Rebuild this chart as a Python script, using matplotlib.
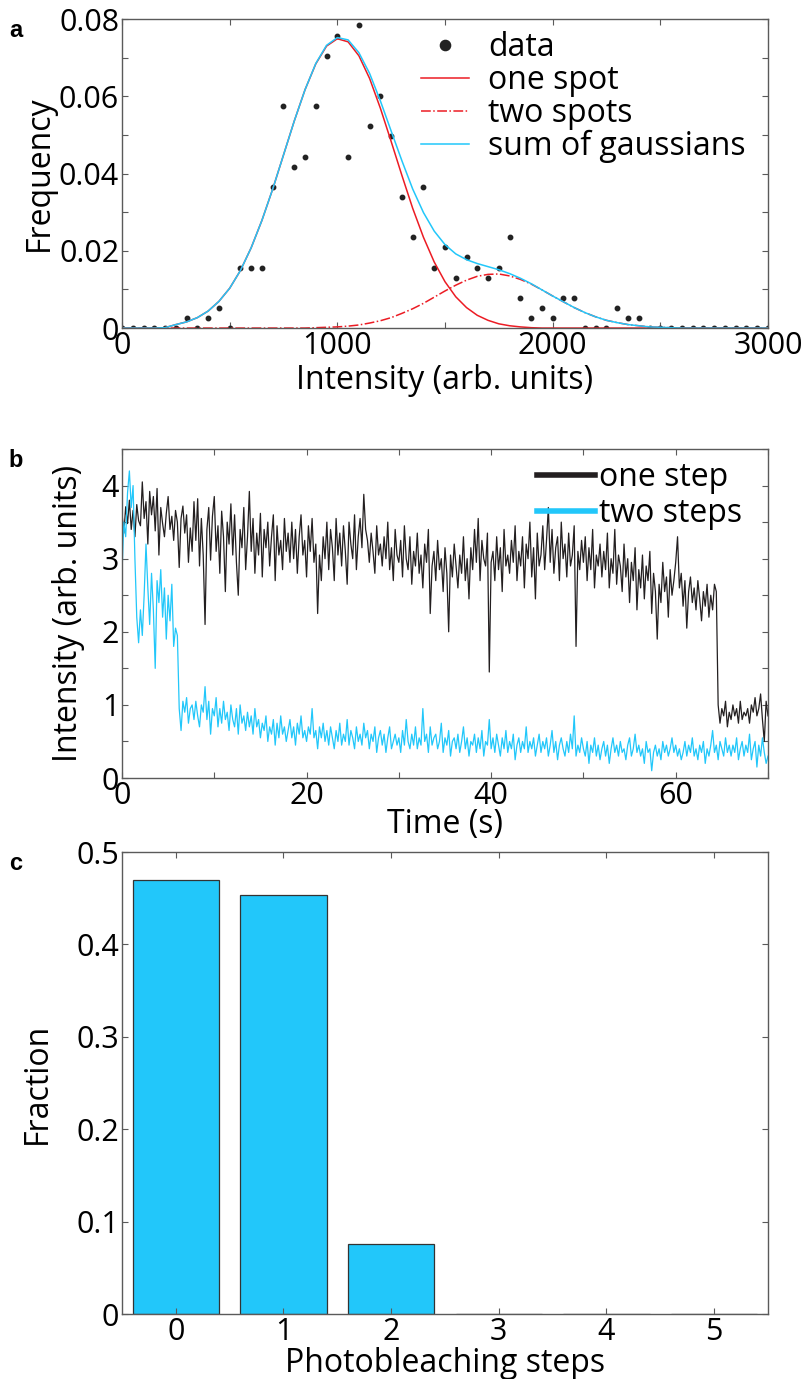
import numpy as np
import matplotlib
matplotlib.use("Agg")
import matplotlib.pyplot as plt
from matplotlib.ticker import MultipleLocator

plt.rcParams['font.family'] = ['Open Sans', 'DejaVu Sans']

# ---- panel a: intensity histogram of spots (counts per 50 unit bin)
intensity = np.arange(0, 3001, 50)
counts = [0, 0, 0, 0, 0, 0, 1, 0, 1, 2, 0, 6, 6, 6, 14, 22, 16, 17, 22, 27,
          29, 17, 30, 20, 23, 19, 13, 9, 14, 6, 8, 5, 7, 6, 5, 6, 9, 3, 1, 2,
          1, 3, 3, 0, 0, 0, 2, 1, 1, 0, 0, 0, 0, 0, 0, 0, 0, 0, 0, 0, 0]
# fitted gaussians at the same 50 unit steps
one_spot = [0.0000, 0.0000, 0.0000, 0.0000, 0.0001, 0.0009, 0.0016, 0.0027, 0.0044, 0.0069,
            0.0103, 0.0149, 0.0208, 0.0279, 0.0360, 0.0448, 0.0536, 0.0617, 0.0684, 0.0730,
            0.0749, 0.0741, 0.0705, 0.0646, 0.0569, 0.0483, 0.0395, 0.0310, 0.0235, 0.0171,
            0.0120, 0.0081, 0.0053, 0.0033, 0.0020, 0.0011, 0.0006, 0.0003, 0.0001, 0.0000,
            0.0000, 0.0000, 0.0000, 0.0000, 0.0000, 0.0000, 0.0000, 0.0000, 0.0000, 0.0000,
            0.0000, 0.0000, 0.0000, 0.0000, 0.0000, 0.0000, 0.0000, 0.0000, 0.0000, 0.0000, 0.0000]
two_spots = [0.0000, 0.0000, 0.0000, 0.0000, 0.0000, 0.0000, 0.0000, 0.0000, 0.0000, 0.0000,
             0.0000, 0.0000, 0.0000, 0.0000, 0.0000, 0.0000, 0.0000, 0.0000, 0.0001, 0.0002,
             0.0003, 0.0005, 0.0008, 0.0013, 0.0019, 0.0027, 0.0038, 0.0050, 0.0064, 0.0080,
             0.0096, 0.0111, 0.0124, 0.0134, 0.0139, 0.0140, 0.0135, 0.0126, 0.0114, 0.0099,
             0.0083, 0.0068, 0.0053, 0.0040, 0.0029, 0.0020, 0.0014, 0.0009, 0.0006, 0.0003,
             0.0002, 0.0001, 0.0000, 0.0000, 0.0000, 0.0000, 0.0000, 0.0000, 0.0000, 0.0000, 0.0000]

# ---- panel b: example traces, one frame every 0.2 s
time = np.arange(0, 351) * 0.2
one_step = [3.62, 3.35, 3.71, 3.48, 3.80, 3.40, 3.66, 3.30, 3.74, 3.52,
            3.45, 4.05, 3.55, 3.78, 3.20, 3.92, 3.60, 3.85, 3.38, 3.96,
            3.05, 3.70, 3.48, 3.30, 3.62, 3.85, 3.40, 3.58, 3.25, 3.66,
            3.50, 2.88, 3.55, 3.72, 3.35, 3.60, 2.95, 3.42, 3.10, 3.78,
            3.25, 3.82, 2.90, 3.55, 3.05, 2.10, 3.40, 3.70, 2.98, 3.58,
            3.85, 3.10, 3.45, 2.80, 3.65, 3.30, 2.55, 3.50, 3.20, 3.75,
            3.05, 3.60, 2.95, 2.50, 3.40, 3.15, 3.70, 2.85, 3.30, 3.92,
            3.10, 3.55, 2.80, 3.35, 3.05, 3.62, 2.75, 3.40, 3.15, 3.50,
            2.90, 3.30, 3.60, 2.70, 3.45, 3.05, 3.25, 2.85, 3.55, 3.10,
            3.35, 2.95, 3.50, 3.00, 3.40, 2.80, 3.30, 3.60, 3.05, 3.25,
            2.75, 3.45, 3.10, 3.55, 2.95, 3.20, 2.25, 3.05, 2.70, 3.30,
            3.00, 3.50, 2.85, 3.40, 3.15, 2.70, 3.55, 3.05, 3.35, 2.90,
            3.45, 3.10, 2.65, 3.50, 3.20, 3.00, 3.60, 2.85, 3.30, 3.55,
            3.15, 3.88, 3.40, 3.25, 2.95, 3.35, 3.10, 2.80, 3.45, 3.05,
            3.20, 2.90, 3.30, 3.00, 3.50, 2.85, 3.15, 2.70, 3.40, 3.05,
            2.95, 3.25, 2.75, 3.45, 3.00, 2.85, 3.30, 2.65, 3.10, 2.90,
            3.35, 2.80, 3.05, 2.60, 3.20, 2.95, 3.40, 2.25, 2.90, 3.10,
            2.70, 3.25, 2.85, 3.00, 2.55, 3.15, 2.80, 2.00, 3.05, 2.75,
            3.20, 2.90, 2.60, 3.05, 2.80, 3.30, 2.70, 3.00, 2.45, 3.15,
            2.85, 3.40, 2.95, 3.55, 2.70, 3.25, 3.00, 2.90, 3.35, 1.45,
            2.95, 3.10, 2.70, 3.30, 2.85, 3.15, 2.55, 3.40, 2.90, 3.05,
            2.80, 3.25, 2.95, 3.45, 2.70, 3.10, 2.90, 3.30, 2.60, 3.20,
            3.00, 3.50, 2.75, 3.15, 2.45, 3.35, 2.90, 3.05, 3.45, 2.85,
            3.25, 3.70, 2.95, 3.40, 2.80, 3.15, 3.30, 2.70, 3.50, 3.00,
            3.20, 2.75, 3.35, 2.90, 3.05, 3.45, 1.80, 3.10, 2.85, 3.25,
            2.95, 3.30, 2.70, 3.15, 2.85, 3.40, 2.60, 3.05, 2.90, 3.20,
            2.75, 3.10, 2.85, 3.35, 2.60, 3.00, 2.80, 3.40, 2.65, 3.05,
            2.90, 2.55, 3.20, 2.75, 3.00, 2.40, 2.95, 2.70, 3.15, 2.30,
            2.85, 2.60, 3.05, 2.45, 2.90, 2.70, 3.10, 2.25, 2.80, 2.55,
            1.90, 2.65, 2.40, 2.95, 2.55, 2.75, 2.20, 2.85, 2.50, 2.70,
            2.95, 3.30, 2.60, 2.80, 2.35, 2.70, 2.05, 2.55, 2.75, 2.40,
            2.60, 2.30, 2.70, 2.45, 2.15, 2.55, 2.35, 2.65, 2.20, 2.50,
            2.30, 2.65, 2.55, 1.00, 0.75, 0.95, 0.85, 1.05, 0.70, 0.90,
            0.80, 1.00, 0.85, 0.95, 0.75, 1.05, 0.80, 0.90, 0.85, 0.95,
            0.75, 1.00, 0.90, 1.10, 0.85, 0.95, 1.15, 0.80, 0.50, 1.05,
            0.85]
two_steps = [2.80, 3.50, 3.30, 3.90, 4.20, 3.70, 4.00, 3.00, 2.20, 1.85,
             2.30, 1.95, 2.50, 3.20, 2.60, 2.10, 2.80, 2.30, 1.50, 2.70,
             2.40, 2.85, 2.20, 2.60, 1.90, 2.50, 2.15, 2.65, 1.80, 2.05,
             1.95, 0.95, 0.65, 1.05, 0.90, 1.10, 0.75, 0.95, 1.00, 0.80,
             1.05, 0.85, 0.70, 1.00, 0.90, 1.25, 0.80, 1.05, 0.60, 0.95,
             0.85, 1.10, 0.70, 0.95, 0.75, 1.05, 0.80, 0.90, 0.65, 1.00,
             0.80, 0.70, 0.95, 0.60, 1.00, 0.75, 0.85, 0.65, 0.90, 0.70,
             0.85, 0.60, 0.95, 0.70, 0.80, 0.55, 0.75, 0.65, 0.85, 0.50,
             0.70, 0.60, 0.80, 0.45, 0.75, 0.55, 0.85, 0.60, 0.70, 0.50,
             0.65, 0.80, 0.55, 0.70, 0.45, 0.75, 0.60, 0.85, 0.55, 0.65,
             0.50, 0.70, 0.60, 0.95, 0.55, 0.65, 0.40, 0.70, 0.55, 0.75,
             0.50, 0.65, 0.45, 0.70, 0.55, 0.40, 0.65, 0.50, 0.75, 0.45,
             0.60, 0.50, 0.80, 0.45, 0.65, 0.55, 0.40, 0.70, 0.50, 0.60,
             0.45, 0.75, 0.55, 0.65, 0.40, 0.60, 0.50, 0.70, 0.35, 0.55,
             0.65, 0.45, 0.60, 0.35, 0.55, 0.70, 0.40, 0.50, 0.60, 0.45,
             0.55, 0.35, 0.65, 0.45, 0.80, 0.50, 0.40, 0.60, 0.45, 0.70,
             0.40, 0.55, 0.45, 0.95, 0.50, 0.60, 0.35, 0.70, 0.45, 0.55,
             0.60, 0.40, 0.50, 0.75, 0.35, 0.55, 0.45, 0.65, 0.30, 0.50,
             0.55, 0.40, 0.60, 0.35, 0.50, 0.70, 0.40, 0.55, 0.30, 0.50,
             0.45, 0.60, 0.35, 0.55, 0.40, 0.65, 0.30, 0.50, 0.45, 0.80,
             0.40, 0.55, 0.35, 0.60, 0.45, 0.30, 0.55, 0.40, 0.65, 0.35,
             0.50, 0.40, 0.60, 0.25, 0.45, 0.55, 0.35, 0.50, 0.40, 0.70,
             0.35, 0.50, 0.40, 0.55, 0.30, 0.45, 0.60, 0.35, 0.50, 0.40,
             0.55, 0.30, 0.45, 0.65, 0.35, 0.50, 0.25, 0.45, 0.55, 0.40,
             0.30, 0.50, 0.35, 0.60, 0.40, 0.85, 0.30, 0.45, 0.35, 0.55,
             0.40, 0.30, 0.50, 0.20, 0.45, 0.35, 0.55, 0.30, 0.45, 0.25,
             0.40, 0.50, 0.30, 0.45, 0.20, 0.40, 0.55, 0.35, 0.45, 0.30,
             0.50, 0.35, 0.40, 0.25, 0.45, 0.55, 0.30, 0.40, 0.60, 0.35,
             0.45, 0.30, 0.40, 0.20, 0.50, 0.35, 0.40, 0.10, 0.35, 0.45,
             0.30, 0.40, 0.25, 0.50, 0.35, 0.45, 0.30, 0.40, 0.55, 0.35,
             0.45, 0.30, 0.40, 0.25, 0.35, 0.50, 0.30, 0.45, 0.35, 0.55,
             0.30, 0.40, 0.25, 0.45, 0.35, 0.50, 0.20, 0.40, 0.30, 0.45,
             0.65, 0.35, 0.45, 0.25, 0.50, 0.40, 0.30, 0.55, 0.35, 0.45,
             0.30, 0.45, 0.35, 0.55, 0.25, 0.40, 0.50, 0.30, 0.45, 0.35,
             0.60, 0.25, 0.40, 0.50, 0.15, 0.45, 0.30, 0.55, 0.35, 0.20,
             0.30]

# ---- panel c: photobleaching step distribution
steps = [0, 1, 2, 3, 4, 5]
fraction = [0.470, 0.454, 0.0755, 0, 0, 0]

RED = '#ec1c24'
CYAN = '#22c7fa'
FRAME = '#5a5a5a'


def style_axes(ax):
    # matlab like box: grey frame, inward ticks on every side
    for s in ax.spines.values():
        s.set_color(FRAME)
        s.set_linewidth(1.0)
    ax.tick_params(which='both', direction='in', top=True, right=True,
                   length=4, width=0.8, color=FRAME, labelsize=22, pad=2)


def panel_letter(ax, letter):
    ax.text(-0.175, 1.0, letter, transform=ax.transAxes, fontsize=17,
            fontweight='bold', family='Liberation Sans', va='top')


fig = plt.figure(figsize=(8.09, 13.79), dpi=100)

# panel a
ax1 = fig.add_axes([0.1508, 0.7621, 0.7985, 0.2241])
freq = np.array(counts) / np.sum(counts)
total = np.array(one_spot) + np.array(two_spots)
ax1.plot(intensity, freq, 'o', color='#222222', ms=3.2, label='data')
ax1.plot(intensity, one_spot, '-', color=RED, lw=1.1, label='one spot')
ax1.plot(intensity, two_spots, '-.', color=RED, lw=1.1, label='two spots')
ax1.plot(intensity, total, '-', color=CYAN, lw=1.1, label='sum of gaussians')
ax1.set_xlim(0, 3000)
ax1.set_ylim(0, 0.08)
ax1.xaxis.set_major_locator(MultipleLocator(1000))
ax1.xaxis.set_minor_locator(MultipleLocator(500))
ax1.yaxis.set_minor_locator(MultipleLocator(0.01))
ax1.set_yticks([0, 0.02, 0.04, 0.06, 0.08])
ax1.set_yticklabels(['0', '0.02', '0.04', '0.06', '0.08'])
style_axes(ax1)
ax1.set_xlabel('Intensity (arb. units)', fontsize=23, labelpad=2)
ax1.set_ylabel('Frequency', fontsize=23, labelpad=2)
ax1.legend(loc='upper right', bbox_to_anchor=(1.01, 1.055), frameon=False,
           fontsize=23, handlelength=1.5, handletextpad=0.6,
           labelspacing=0.0, markerscale=2.3)
panel_letter(ax1, 'a')

# panel b
ax2 = fig.add_axes([0.1508, 0.4358, 0.7985, 0.2386])
ax2.plot(time, one_step, color='#231f20', lw=0.9, label='one step')
ax2.plot(time, two_steps, color=CYAN, lw=0.9, label='two steps')
ax2.set_xlim(0, 70)
ax2.set_ylim(0, 4.5)
ax2.xaxis.set_major_locator(MultipleLocator(20))
ax2.xaxis.set_minor_locator(MultipleLocator(10))
ax2.yaxis.set_major_locator(MultipleLocator(1))
ax2.yaxis.set_minor_locator(MultipleLocator(0.5))
style_axes(ax2)
ax2.set_xlabel('Time (s)', fontsize=23, labelpad=-2)
ax2.set_ylabel('Intensity (arb. units)', fontsize=23, labelpad=12)
leg2 = ax2.legend(loc='upper right', bbox_to_anchor=(1.005, 1.05), frameon=False,
                  fontsize=23, handlelength=1.8, handletextpad=0.15,
                  labelspacing=0.1)
for h in leg2.get_lines():
    h.set_linewidth(4)
panel_letter(ax2, 'b')

# panel c
ax3 = fig.add_axes([0.1508, 0.0471, 0.7985, 0.3350])
ax3.bar(steps, fraction, width=0.8, color=CYAN, edgecolor='#333333', lw=0.9)
ax3.set_xlim(-0.5, 5.5)
ax3.set_ylim(0, 0.5)
ax3.set_xticks(steps)
ax3.set_yticks([0, 0.1, 0.2, 0.3, 0.4, 0.5])
ax3.set_yticklabels(['0', '0.1', '0.2', '0.3', '0.4', '0.5'])
style_axes(ax3)
ax3.set_xlabel('Photobleaching steps', fontsize=23, labelpad=0)
ax3.set_ylabel('Fraction', fontsize=23, labelpad=16)
panel_letter(ax3, 'c')

fig.savefig('out.png', dpi=100)
